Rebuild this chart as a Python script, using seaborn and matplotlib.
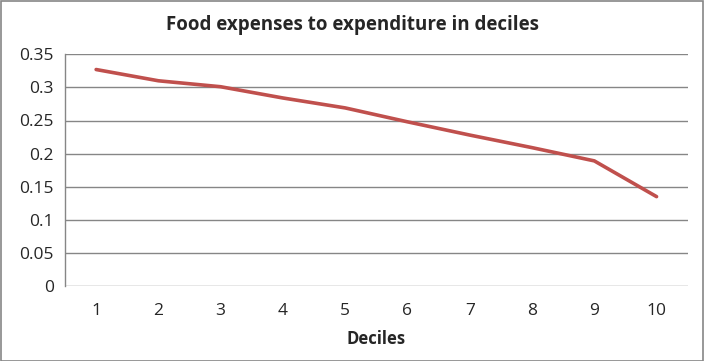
import pandas as pd
import seaborn as sns
import matplotlib.pyplot as plt
from matplotlib.patches import Rectangle

# Data
deciles = [1, 2, 3, 4, 5, 6, 7, 8, 9, 10]
food_share = [0.327, 0.310, 0.301, 0.284, 0.269, 0.248, 0.228, 0.209, 0.189, 0.135]
y_ticks = [0, 0.05, 0.1, 0.15, 0.2, 0.25, 0.3, 0.35]
y_labels = ['0', '0.05', '0.1', '0.15', '0.2', '0.25', '0.3', '0.35']

df = pd.DataFrame({'Deciles': deciles, 'Share': food_share})

sns.set_style('white')
plt.rcParams['font.family'] = ['Open Sans', 'DejaVu Sans']

fig = plt.figure(figsize=(7.04, 3.61), dpi=100)
ax = fig.add_axes([65 / 704, 75 / 361, 622.7 / 704, 231.7 / 361])

sns.lineplot(data=df, x='Deciles', y='Share', ax=ax, color='#C0504D', linewidth=2.6)

ax.set_xlim(0.5, 10.5)
ax.set_ylim(0, 0.35)
ax.set_yticks(y_ticks)
ax.set_yticklabels(y_labels)
ax.set_xticks(deciles)
ax.set_xticklabels([str(d) for d in deciles])
ax.yaxis.grid(True, color='#868686', linewidth=1)
ax.set_axisbelow(True)

for side in ['top', 'right', 'bottom']:
    ax.spines[side].set_visible(False)
ax.spines['left'].set_color('#868686')
ax.spines['left'].set_linewidth(1)

ax.tick_params(axis='y', length=5, width=1, color='#868686', labelsize=12.5, pad=3)
ax.tick_params(axis='x', length=0, labelsize=12.5, pad=12)

ax.set_ylabel('')
ax.set_xlabel('Deciles', fontsize=12, fontweight='bold', labelpad=8)

# Title is centred on the whole chart, not the plot area
fig.text(352 / 704, 1 - 25 / 361, 'Food expenses to expenditure in deciles',
         ha='center', va='center', fontsize=13.5, fontweight='bold')

# Chart border
fig.patches.append(Rectangle((0.5 / 704, 0.5 / 361), 702.5 / 704, 359.5 / 361,
                             transform=fig.transFigure, fill=False,
                             edgecolor='#868686', linewidth=1.2))

fig.savefig('out.png', dpi=100)
